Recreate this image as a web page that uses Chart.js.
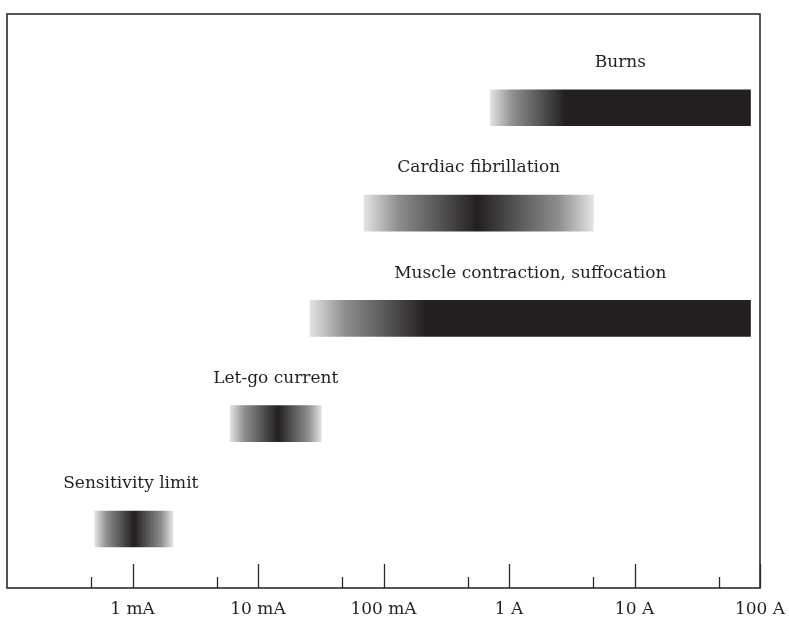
<!DOCTYPE html>
<html><head><meta charset="utf-8">
<style>html,body{margin:0;padding:0;background:#fff;overflow:hidden}</style>
<script src="https://cdn.jsdelivr.net/npm/chart.js@4.4.0/dist/chart.umd.min.js"></script>
</head><body>
<canvas id="c" width="789" height="617" style="display:block;width:789px;height:617px"></canvas>
<script>
// ---- data (currents in amperes) ----
const categories = ['Sensitivity limit', 'Let-go current', 'Muscle contraction, suffocation', 'Cardiac fibrillation', 'Burns'];
const rowPositions = [1, 2, 3, 4, 5];
const rangeStart = [0.0005, 0.006, 0.026, 0.07, 0.71];
const rangeEnd   = [0.0021, 0.032, 84, 4.7, 84];
const darkFrom   = [0.00103, 0.0144, 0.22, 0.56, 2.8];
const darkTo     = [0.00103, 0.0144, 84, 0.56, 84];
const majorTicks  = [0.001, 0.01, 0.1, 1, 10, 100];
const majorLabels = ['1 mA', '10 mA', '100 mA', '1 A', '10 A', '100 A'];
const minorTicks  = [0.00047, 0.0047, 0.047, 0.47, 4.7, 47];

const INK = '#231f20';
const LIGHT = '#e2e3e5';
const MID = '#8e8e8f';
const FONT = "'DejaVu Serif', serif";

function barGradient(ctx) {
  const chart = ctx.chart;
  if (!chart.chartArea) return INK;
  const xs = chart.scales.x;
  const i = ctx.dataIndex;
  const s = xs.getPixelForValue(rangeStart[i]);
  const e = xs.getPixelForValue(rangeEnd[i]);
  const a = xs.getPixelForValue(darkFrom[i]);
  const b = xs.getPixelForValue(darkTo[i]);
  const g = chart.ctx.createLinearGradient(s, 0, e, 0);
  const w = e - s;
  const pa = Math.min(1, Math.max(0, (a - s) / w));
  const pb = Math.min(1, Math.max(0, (b - s) / w));
  g.addColorStop(0, LIGHT);
  g.addColorStop(pa * 0.3, MID);
  g.addColorStop(pa, INK);
  g.addColorStop(pb, INK);
  if (pb < 0.999) {
    g.addColorStop(1 - (1 - pb) * 0.3, MID);
    g.addColorStop(1, LIGHT);
  } else {
    g.addColorStop(1, INK);
  }
  return g;
}

const framePlugin = {
  id: 'frame',
  afterDatasetsDraw(chart) {
    const c = chart.ctx, a = chart.chartArea, xs = chart.scales.x;
    c.save();
    c.strokeStyle = '#2b2b2b';
    c.lineWidth = 1.6;
    c.strokeRect(a.left, a.top, a.right - a.left, a.bottom - a.top);
    c.lineWidth = 1.3;
    c.beginPath();
    majorTicks.forEach(v => { const x = Math.round(xs.getPixelForValue(v)) + 0.5; c.moveTo(x, a.bottom); c.lineTo(x, a.bottom - 24); });
    minorTicks.forEach(v => { const x = Math.round(xs.getPixelForValue(v)) + 0.5; c.moveTo(x, a.bottom); c.lineTo(x, a.bottom - 11); });
    c.stroke();
    // labels above bars
    const ys = chart.scales.y;
    const dx = chart.options.plugins.frame.labelShift;
    c.fillStyle = INK;
    c.font = '17px ' + FONT;
    c.textAlign = 'center';
    c.textBaseline = 'middle';
    categories.forEach((t, i) => {
      const x = (xs.getPixelForValue(rangeStart[i]) + xs.getPixelForValue(rangeEnd[i])) / 2 + (dx[i] || 0);
      const y = ys.getPixelForValue(rowPositions[i]) - 45;
      c.fillText(t, x, y);
    });
    c.restore();
  }
};

new Chart(document.getElementById('c'), {
  type: 'bar',
  data: {
    datasets: [{
      data: rowPositions.map((p, i) => ({ x: [rangeStart[i], rangeEnd[i]], y: p })),
      backgroundColor: barGradient,
      borderWidth: 0,
      borderSkipped: false,
      barThickness: 36
    }]
  },
  options: {
    indexAxis: 'y',
    responsive: false,
    animation: false,
    devicePixelRatio: 1,
    layout: { padding: { left: 7, right: 29, top: 14, bottom: 0 } },
    plugins: {
      legend: { display: false },
      tooltip: { enabled: false },
      frame: { labelShift: [-3, 0, 0, 0, 0] }
    },
    scales: {
      x: {
        type: 'logarithmic',
        min: 0.0001,
        max: 100,
        grid: { display: false, drawTicks: false },
        border: { display: false },
        afterBuildTicks: (scale) => { scale.ticks = majorTicks.map(v => ({ value: v, major: false })); },
        afterFit: (scale) => { scale.height = 29; scale.paddingRight = 0; scale.paddingLeft = 0; },
        ticks: {
          autoSkip: false,
          maxRotation: 0,
          padding: 11,
          color: INK,
          font: { family: FONT, size: 17 },
          callback: (v, i) => majorLabels[i]
        }
      },
      y: {
        type: 'linear',
        min: 0.44,
        max: 5.89,
        offset: false,
        bounds: 'data',
        grace: 0,
        display: false
      }
    }
  },
  plugins: [framePlugin]
});
</script>
</body></html>
